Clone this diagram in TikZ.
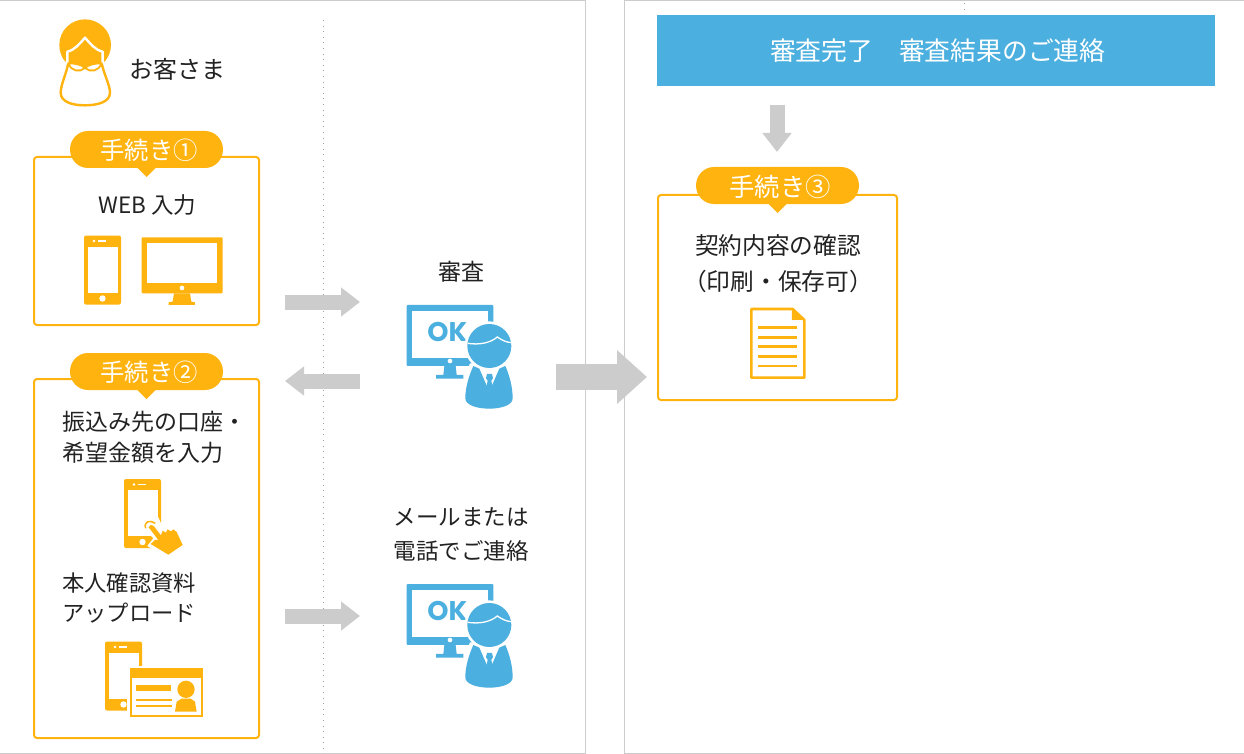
\documentclass[tikz,border=0pt]{standalone}
\usepackage{fontspec}
\setmainfont{Noto Sans CJK JP}
\newfontfamily\okfont{Poppins}
\usetikzlibrary{arrows.meta}
\definecolor{orangeY}{HTML}{FFB30F}
\definecolor{blueB}{HTML}{4BAFDF}
\definecolor{grayA}{HTML}{CCCCCC}
\definecolor{inkT}{HTML}{222222}
\tikzset{
  panel/.style={draw=grayA,line width=1pt,fill=white},
  stepbox/.style={draw=orangeY,line width=2pt,rounded corners=3pt},
  lbl/.style={inner sep=0pt,align=left,text=inkT,font=\fontsize{23}{31}\selectfont},
  clbl/.style={inner sep=0pt,align=center,text=inkT,font=\fontsize{23}{33}\selectfont},
  pilltxt/.style={inner sep=0pt,text=white,font=\fontsize{24.3}{28}\selectfont},
  flow/.style={draw=grayA,line width=15pt,-{Triangle[length=19pt,width=28pt]}},
  bigflow/.style={draw=grayA,line width=26pt,-{Triangle[length=30pt,width=52pt]}},
  fo/.style={fill=orangeY,draw=none},
  fb/.style={fill=blueB,draw=none},
  fw/.style={fill=white,draw=none},
  dotrule/.style={draw=black!38,line width=1pt,dash pattern=on 1pt off 4.6pt},
}
% phone: top-left at (#1,#2)
\newcommand{\phoneicon}[2]{%
  \begin{scope}[shift={(#1,#2)}]
    \fill[fo,rounded corners=2pt] (0,0) rectangle (37,69);
    \fill[fw] (3.5,11) rectangle (33.5,57);
    \fill[fw] (10,5.5) circle (1.4);
    \fill[fw] (14,4.6) rectangle (22,6.4);
    \fill[fw] (18.5,63) circle (3.2);
  \end{scope}}
% monitor with OK and person: top-left at (#1,#2), coordinates in zoomed units
\newcommand{\okicon}[2]{%
  \begin{scope}[shift={(#1,#2)},x=0.3333pt,y=-0.3333pt]
    \fill[fb,rounded corners=1pt] (50,45) rectangle (310,228);
    \fill[fw] (66,62) rectangle (294,205);
    \fill[fw] (180,213) circle (7);
    \fill[fb] (163,228) -- (197,228) -- (200,255) -- (220,255) -- (220,266) -- (138,266) -- (138,255) -- (160,255) -- cycle;
    \node[inner sep=0pt,text=blueB,font=\okfont\bfseries\fontsize{27}{27}\selectfont] at (172,125) {OK};
    \fill[fw] (298,168) circle (74);
    \fill[fw] (215,362) -- (215,290) -- (240,220) -- (355,220) -- (378,290) -- (378,362) -- cycle;
    \fill[fb] (298,168) circle (66);
    \draw[white,line width=1.3pt] (234,160) .. controls (265,165) and (300,160) .. (322,141) .. controls (335,150) and (350,158) .. (366,158);
    \fill[fb] (250,228) -- (268,236) -- (298,305) -- (328,236) -- (346,228) .. controls (358,255) and (368,290) .. (368,325) .. controls (368,345) and (335,356) .. (298,356) .. controls (260,356) and (226,345) .. (226,325) .. controls (226,290) and (238,255) .. (250,228) -- cycle;
    \fill[fb] (291,252) -- (306,252) -- (309,265) -- (304,272) -- (309,298) -- (298.5,305) -- (288,298) -- (293,272) -- (288,265) -- cycle;
  \end{scope}}
\newcommand{\pill}[5]{% name, cx, top, width, text
  \fill[fo] ({#2-#4/2+18},#3) -- ({#2+#4/2-18},#3) arc[start angle=-90,end angle=90,x radius=18,y radius=18.5] -- ({#2+9},{#3+37}) -- (#2,{#3+46}) -- ({#2-9},{#3+37}) -- ({#2-#4/2+18},{#3+37}) arc[start angle=90,end angle=270,x radius=18,y radius=18.5] -- cycle;
  \node[pilltxt] (#1) at ({#2+2.5},{#3+19.5}) {#5};}
\begin{document}
\begin{tikzpicture}[x=1pt,y=-1pt]
\useasboundingbox (0,0) rectangle (1244,754);
\fill[white] (0,0) rectangle (1244,754);
% panels
\draw[panel] (-2,0.5) -- (585.5,0.5) -- (585.5,753.5) -- (-2,753.5);
\draw[panel] (1246,0.5) -- (624.5,0.5) -- (624.5,753.5) -- (1246,753.5);
\draw[dotrule] (323,20) -- (323,754);
\draw[dotrule] (964,3.5) -- (964,11);
% customer
\begin{scope}[shift={(30,0)},x=0.3333pt,y=-0.3333pt]
  \draw[orangeY,line width=2.4pt,fill=white] (116,185) .. controls (108,225) and (92,255) .. (92,278) .. controls (92,305) and (125,316) .. (165,316) .. controls (205,316) and (240,305) .. (240,278) .. controls (240,255) and (222,225) .. (214,185) -- cycle;
  \fill[fo] (88,135) .. controls (88,90) and (125,58) .. (165,58) .. controls (205,58) and (243,90) .. (243,135) .. controls (243,155) and (235,172) .. (225,184) .. controls (205,195) and (185,202) .. (165,202) .. controls (145,202) and (125,195) .. (105,184) .. controls (95,172) and (88,155) .. (88,135) -- cycle;
  \draw[white,line width=2.4pt,line join=round] (112,190) -- (112,155) .. controls (135,150) and (150,130) .. (165,113) .. controls (180,130) and (195,150) .. (218,155) -- (218,190);
  \draw[orangeY,line width=1.8pt,fill=white] (165,204) .. controls (150,218) and (122,214) .. (116,190) .. controls (135,190) and (155,194) .. (165,204) -- cycle;
  \draw[orangeY,line width=1.8pt,fill=white] (165,204) .. controls (180,218) and (208,214) .. (214,190) .. controls (195,190) and (175,194) .. (165,204) -- cycle;
\end{scope}
\node[lbl,anchor=center,font=\fontsize{24}{30}\selectfont] (customer) at (177,69) {お客さま};
% step 1
\draw[stepbox] (34,157) rectangle (259,325);
\pill{tagone}{146.5}{131}{153}{手続き①}
\node[clbl,font=\fontsize{22.5}{30}\selectfont] (webin) at (147.5,205) {WEB 入力};
\phoneicon{84}{235.5}
\begin{scope}[shift={(30,0)},x=0.3333pt,y=-0.3333pt]
  \fill[fo,rounded corners=1pt] (335,712) rectangle (578,880);
  \fill[fw] (351,728) rectangle (562,850);
  \fill[fw] (456,864) circle (7);
  \fill[fo] (432,880) -- (480,880) -- (484,905) -- (495,907) -- (495,915) -- (416,915) -- (416,907) -- (428,905) -- cycle;
\end{scope}
% step 2
\draw[stepbox] (34,379) rectangle (259,738);
\pill{tagtwo}{146.5}{353}{153}{手続き②}
\node[lbl,anchor=north west] (t2a) at (62,411) {振込み先の口座・\\希望金額を入力};
\phoneicon{124}{479}
\begin{scope}[shift={(30,460)},x=0.3333pt,y=-0.3333pt]
  \fill[fw] (338,172) -- (385,172) -- (400,205) -- (445,200) -- (470,260) -- (415,295) -- (352,258) -- (370,235) -- (338,200) -- cycle;
  \draw[orangeY,line width=1.5pt] (347,205) .. controls (340,185) and (360,178) .. (376,190);
  \fill[fo] (356,202) .. controls (358,194) and (366,192) .. (371,198) -- (393,226) -- (398,212) -- (408,218) -- (412,208) -- (424,214) -- (430,208) -- (440,216) -- (458,255) -- (415,284) -- (362,252) -- (375,240) -- (385,240) -- cycle;
\end{scope}
\node[lbl,anchor=north west,font=\fontsize{22.3}{30}\selectfont] (t2b) at (62,573) {本人確認資料\\アップロード};
\phoneicon{105}{641.5}
\begin{scope}[shift={(30,460)},x=0.3333pt,y=-0.3333pt]
  \fill[fw] (292,617) rectangle (528,780);
  \fill[fo] (300,625) rectangle (520,772);
  \fill[fw] (306,655) rectangle (514,766);
  \fill[fo] (318,675) rectangle (423,694);
  \fill[fo] (318,717) rectangle (425,724);
  \fill[fo] (318,735) rectangle (425,742);
  \fill[fo] (468,688) circle (26);
  \fill[fo] (435,755) -- (440,725) -- (455,716) -- (482,716) -- (495,725) -- (500,755) -- cycle;
\end{scope}
% centre
\node[clbl] (shinsa) at (461,272) {審査};
\okicon{390}{290}
\node[clbl,font=\fontsize{22.5}{34}\selectfont] (mail) at (461,534) {メールまたは\\電話でご連絡};
\okicon{390}{569}
% arrows
\coordinate (a1s) at (285,302); \coordinate (a1e) at (360,302);
\coordinate (a2s) at (360,381); \coordinate (a2e) at (285,381);
\coordinate (a3s) at (285,616); \coordinate (a3e) at (360,616);
\coordinate (a4s) at (556,377); \coordinate (a4e) at (647,377);
\coordinate (a5s) at (777,105); \coordinate (a5e) at (777,152);
\draw[flow] (a1s) -- (a1e);
\draw[flow] (a2s) -- (a2e);
\draw[flow] (a3s) -- (a3e);
\draw[bigflow] (a4s) -- (a4e);
\draw[flow] (a5s) -- (a5e);
% right side
\node[fill=blueB,minimum width=558pt,minimum height=71pt,inner sep=0pt,text=white,font=\fontsize{25.8}{30}\selectfont] (banner) at (936,50.5) {\kern3.5pt 審査完了　審査結果のご連絡};
\draw[stepbox] (658,195) rectangle (897,400);
\pill{tagthree}{777.5}{167}{163}{\fontsize{25.3}{28}\selectfont 手続き③}
\node[clbl,font=\fontsize{23.7}{35.5}\selectfont] (keiyaku) at (778,263.5) {契約内容の確認\\（印刷・保存可）};
\begin{scope}[shift={(650,150)},x=0.3333pt,y=-0.3333pt]
  \draw[orangeY,line width=2.6pt,fill=white,line join=round] (304,477) -- (428,477) -- (463,510) -- (463,683) -- (304,683) -- cycle;
  \fill[fo] (426,475) -- (465,510) -- (426,510) -- cycle;
  \foreach \yy in {533,562,590,619,648}{\fill[fo] (325,\yy-4) rectangle (440,\yy+4);}
\end{scope}
\end{tikzpicture}
\end{document}
